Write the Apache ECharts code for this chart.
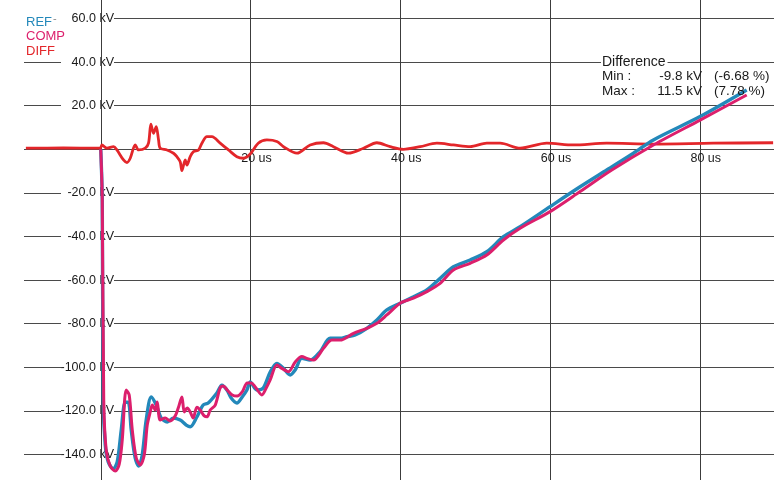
<!DOCTYPE html>
<html>
<head>
<meta charset="utf-8">
<script src="https://cdn.jsdelivr.net/npm/echarts@6/dist/echarts.min.js"></script>
<style>
  html, body { margin: 0; padding: 0; background: #fff; }
  #chart { width: 774px; height: 480px; }
</style>
</head>
<body>
<div id="chart"></div>
<script>
// Impulse voltage record: reference and compared waveforms plus their difference.
// Time in microseconds, voltage in kV.
const refTime = [0, 0.2, 0.33, 0.6, 1.0, 1.67, 2.2, 2.74, 3.27, 3.67, 4.07, 4.6, 5.07, 5.54, 6.07, 6.74, 7.41, 8.08, 8.88, 9.68,
  10.61, 11.42, 11.95, 12.84, 13.68, 14.35, 15.51, 16.18, 16.85, 17.42, 18.18, 18.89, 19.52, 19.96, 20.85, 21.7, 22.63, 23.52, 24.41, 25.3,
  25.97, 26.86, 27.97, 29.31, 30.64, 31.98, 32.87, 33.98, 35.54, 36.88, 38.21, 39.99, 41.76, 43.55, 45.33, 47.1, 49.33, 51.56, 53.78, 56.01,
  60.01, 64.02, 67.58, 71.14, 73.81, 80.04, 86.27];
const refKV = [0, -23, -115, -135.6, -143.4, -146.6, -143.4, -128.7, -116, -116, -128.7, -141.6, -145.3, -140.2, -124.2, -113.6, -117.3, -123.3, -125.1, -123.3,
  -124.2, -126.5, -127.3, -122.8, -117.3, -116.4, -111.8, -108.2, -110.4, -114.1, -116.4, -113.6, -110.4, -106.7, -110.4, -109.5, -102.2, -98.2, -100.5, -103.5,
  -101.2, -95.9, -96.7, -92.8, -86.7, -86.7, -86.0, -85.2, -82.1, -78.3, -73.7, -70.6, -67.6, -64.5, -59.2, -53.9, -50.8, -47.0, -40.1, -35.5,
  -26.3, -17.2, -9.5, -1.8, 4.3, 15.0, 27.2];

const compTime = [0, 0.2, 0.4, 0.73, 1.27, 1.94, 2.47, 2.87, 3.4, 3.8, 4.21, 4.74, 5.27, 5.81, 6.21, 6.61, 6.88, 7.28, 7.54, 7.94,
  8.61, 9.28, 9.95, 10.35, 10.84, 11.15, 11.55, 11.95, 12.35, 12.84, 13.28, 13.82, 14.22, 14.62, 15.29, 15.95, 16.36, 16.89, 17.56, 18.22,
  18.89, 19.56, 20.09, 20.63, 21.52, 22.1, 22.63, 23.52, 24.19, 25.07, 25.97, 26.86, 27.53, 28.41, 29.75, 30.87, 31.98, 33.75, 35.54, 36.88,
  38.21, 39.99, 41.76, 43.55, 45.33, 47.1, 49.33, 51.56, 53.78, 56.01, 60.01, 64.02, 68.25, 73.81, 80.04, 86.27];
const compKV = [0, -23, -115, -138.2, -145.3, -147.6, -144.4, -133.4, -110.4, -112.7, -128.7, -141.6, -144.8, -140.2, -126.5, -120.5, -117.3, -119.6, -115.9, -124.2,
  -123.3, -124.6, -122.3, -118.7, -113.6, -120.5, -118.7, -120.5, -123.3, -118.3, -119.6, -122.3, -122.7, -119.6, -117.3, -109.5, -108.6, -110.4, -112.7, -113.2,
  -111.3, -107.2, -107.2, -109.0, -112.7, -109.5, -105.8, -98.9, -100.5, -102.0, -97.6, -95.1, -95.9, -96.7, -91.3, -87.5, -87.5, -84.4, -82.1, -79.8,
  -76.0, -70.6, -68.3, -65.3, -61.5, -55.4, -52.3, -48.5, -41.6, -36.2, -28.6, -19.4, -9.5, 2.0, 13.4, 24.9];

const diffTime = [-10, -5, -0.07, 0.16, 0.83, 1.71, 2.16, 3.04, 3.5, 3.94, 4.61, 5.05, 5.94, 6.38, 6.7, 7.05, 7.41, 7.72, 7.94, 8.84,
  9.72, 10.17, 10.61, 10.84, 11.28, 11.51, 11.95, 12.39, 13.06, 13.51, 14.18, 14.85, 15.95, 17.06, 18.18, 19.07, 19.96, 21.03, 22.19, 23.52,
  24.41, 26.2, 27.97, 29.75, 31.08, 33.08, 35.09, 36.88, 38.65, 40.43, 42.66, 44.89, 47.1, 49.33, 51.56, 53.34, 56.01, 59.57, 63.12, 67.58,
  73.76, 81.78, 89.8];
const diffKV = [0.5, 0.6, 0.5, 2.0, 0.5, 1.2, -0.3, -4.9, -6.1, -4.1, 2.0, -0.3, 0.5, 2.8, 11.5, 7.3, 10.4, 4.3, 0.5, -0.3,
  -1.8, -3.4, -5.7, -9.8, -4.9, -7.2, -3.4, -1.1, -0.3, 2.8, 5.8, 5.8, 2.8, -0.3, -3.4, -4.1, -2.2, 2.8, 4.3, 3.6,
  1.2, -1.8, 2.0, 3.0, 1.2, -1.8, 0.5, 3.0, 1.2, 0, 1.2, 2.8, 2.0, 1.2, 2.8, 2.8, 0.5, 2.8, 2.0, 2.8,
  2.4, 2.8, 3.0];

// Relative extremes of the difference, in percent of peak.
const diffMinPct = -6.68;
const diffMaxPct = 7.78;

const seriesNames = ['REF', 'COMP', 'DIFF'];
const seriesColors = { REF: '#2388ba', COMP: '#dc1f6c', DIFF: '#e3262a' };

const zip = (ts, vs) => ts.map((t, i) => [t, vs[i]]);

const FONT = '"Liberation Sans", Arial, Helvetica, sans-serif';
const GRID_H = '#4a4a4a';
const GRID_V = '#3c3c3c';
const TEXT = '#1a1a1a';
const BOX_FONT = '13.5px ' + FONT;

// Plot frame: the 0 kV line sits at y = 149.3 px, 2.18 px per kV.
const Y_TOP = -25.1, Y_BOTTOM = -18.1;
const ZERO_FROM_BOTTOM = 480 - Y_BOTTOM - 149.3;

const diffMin = Math.min(...diffKV);
const diffMax = Math.max(...diffKV);

const chart = echarts.init(document.getElementById('chart'), null, { renderer: 'canvas' });

chart.setOption({
  animation: false,
  backgroundColor: '#fff',
  grid: [
    // horizontal rulings, starting a little left of the voltage axis
    { left: 24, right: 0, top: Y_TOP, bottom: Y_BOTTOM, outerBoundsMode: 'none', containLabel: false },
    // waveform area, time axis from -20 us to 100 us
    { left: -49, right: -75.5, top: Y_TOP, bottom: Y_BOTTOM, outerBoundsMode: 'none', containLabel: false }
  ],
  legend: {
    orient: 'vertical',
    left: 16,
    top: 8,
    itemWidth: 0,
    itemHeight: 12,
    itemGap: 1.5,
    selectedMode: false,
    formatter: name => name === 'REF' ? 'REF{d|-}' : name,
    textStyle: {
      fontFamily: FONT,
      fontSize: 13,
      rich: { d: { color: '#8a8a8a', fontSize: 11, padding: [0, 0, 7, 1] } }
    },
    data: seriesNames.map(n => ({ name: n, icon: 'rect', textStyle: { color: seriesColors[n] } }))
  },
  xAxis: [
    {
      gridIndex: 0, type: 'value', min: -20, max: 100, show: false
    },
    {
      gridIndex: 1, type: 'value', min: -20, max: 100, interval: 20, z: 4,
      position: 'bottom', offset: -ZERO_FROM_BOTTOM,
      axisLine: { show: false, onZero: false },
      axisTick: { show: false },
      splitLine: { show: true, lineStyle: { color: GRID_V, width: 1 } },
      axisLabel: {
        show: true, margin: 3, color: TEXT, fontFamily: FONT, fontSize: 12.5,
        padding: [0, 0, 0, 12],
        formatter: v => (v > 0 && v < 100) ? v + ' us' : ''
      }
    }
  ],
  yAxis: [
    {
      gridIndex: 0, type: 'value', min: -160, max: 80, interval: 20, z: 1,
      axisLine: { show: false }, axisTick: { show: false }, axisLabel: { show: false },
      splitLine: { show: true, lineStyle: { color: GRID_H, width: 1 } }
    },
    {
      gridIndex: 0, type: 'value', min: -160, max: 80, interval: 20, z: 3,
      position: 'left', offset: -92,
      axisLine: { show: false }, axisTick: { show: false }, splitLine: { show: false },
      axisLabel: {
        show: true, margin: 2,
        formatter: v => {
          if (v === 0 || v >= 80 || v <= -160) return '';
          const txt = v.toFixed(1) + ' kV';
          return v === 60 ? '{t|' + txt + '}' : '{a|' + txt + '}';
        },
        rich: {
          a: { width: 53, align: 'right', backgroundColor: '#fff', color: TEXT, fontFamily: FONT, fontSize: 12.5, padding: [2, 0, 2, 0] },
          t: { width: 92, align: 'right', backgroundColor: '#fff', color: TEXT, fontFamily: FONT, fontSize: 12.5, padding: [2, 0, 2, 0] }
        }
      }
    },
    {
      gridIndex: 1, type: 'value', min: -160, max: 80, interval: 20, show: false
    }
  ],
  series: [
    {
      name: 'DIFF', type: 'line', xAxisIndex: 1, yAxisIndex: 2, z: 5,
      data: zip(diffTime, diffKV), showSymbol: false, smooth: 0.3,
      lineStyle: { color: seriesColors.DIFF, width: 2.8 }, itemStyle: { color: seriesColors.DIFF }
    },
    {
      name: 'REF', type: 'line', xAxisIndex: 1, yAxisIndex: 2, z: 6,
      data: zip(refTime, refKV), showSymbol: false, smooth: 0.3,
      lineStyle: { color: seriesColors.REF, width: 3.4 }, itemStyle: { color: seriesColors.REF }
    },
    {
      name: 'COMP', type: 'line', xAxisIndex: 1, yAxisIndex: 2, z: 7,
      data: zip(compTime, compKV), showSymbol: false, smooth: 0.3,
      lineStyle: { color: seriesColors.COMP, width: 3 }, itemStyle: { color: seriesColors.COMP }
    }
  ],
  graphic: [
    {
      type: 'text', x: 601, y: 62, z: 20,
      style: { text: 'Difference', fill: TEXT, font: '14px ' + FONT, align: 'left', verticalAlign: 'middle',
        backgroundColor: '#fff', padding: [1, 2, 1, 1] }
    },
    { type: 'text', x: 602, y: 76, z: 20,
      style: { text: 'Min :', fill: TEXT, font: BOX_FONT, align: 'left', verticalAlign: 'middle' } },
    { type: 'text', x: 702, y: 76, z: 20,
      style: { text: diffMin.toFixed(1) + ' kV', fill: TEXT, font: BOX_FONT, align: 'right', verticalAlign: 'middle' } },
    { type: 'text', x: 714, y: 76, z: 20,
      style: { text: '(' + diffMinPct.toFixed(2) + ' %)', fill: TEXT, font: BOX_FONT, align: 'left', verticalAlign: 'middle' } },
    { type: 'text', x: 602, y: 91, z: 20,
      style: { text: 'Max :', fill: TEXT, font: BOX_FONT, align: 'left', verticalAlign: 'middle' } },
    { type: 'text', x: 702, y: 91, z: 20,
      style: { text: diffMax.toFixed(1) + ' kV', fill: TEXT, font: BOX_FONT, align: 'right', verticalAlign: 'middle' } },
    { type: 'text', x: 714, y: 91, z: 20,
      style: { text: '(' + diffMaxPct.toFixed(2) + ' %)', fill: TEXT, font: BOX_FONT, align: 'left', verticalAlign: 'middle' } }
  ]
});
</script>
</body>
</html>
